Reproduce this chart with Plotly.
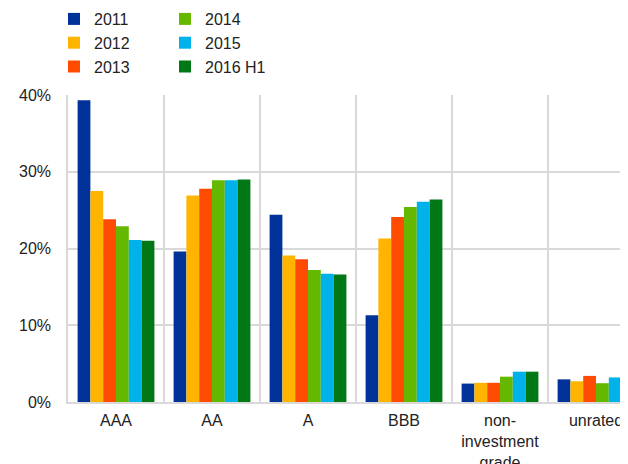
import plotly.graph_objects as go

# rating buckets and share of holdings per period (%)
ratings = ["AAA", "AA", "A", "BBB", "non-<br>investment<br>grade", "unrated"]
periods = ["2011", "2012", "2013", "2014", "2015", "2016 H1"]
colors = ["#003299", "#FFB400", "#FF4B00", "#65B800", "#00B1EA", "#007816"]

share_2011 = [39.3, 19.6, 24.4, 11.3, 2.4, 2.95]
share_2012 = [27.5, 26.9, 19.1, 21.3, 2.5, 2.7]
share_2013 = [23.8, 27.8, 18.6, 24.1, 2.5, 3.4]
share_2014 = [22.9, 28.9, 17.2, 25.4, 3.3, 2.45]
share_2015 = [21.1, 28.9, 16.7, 26.1, 3.95, 3.2]
share_2016 = [21.0, 29.0, 16.6, 26.4, 3.95, 3.35]
series = [share_2011, share_2012, share_2013, share_2014, share_2015, share_2016]

fig = go.Figure()
for i, (name, vals, col) in enumerate(zip(periods, series, colors)):
    fig.add_trace(go.Bar(x=ratings, y=vals, name=name,
                         marker=dict(color=col, line_width=0),
                         legend="legend" if i < 3 else "legend2"))

# the page body adds 8px, so the figure is 8px smaller and laid out up-left
leg = dict(orientation="v", yref="paper", xref="container",
           xanchor="left", yanchor="top", bgcolor="rgba(0,0,0,0)",
           tracegroupgap=0, font=dict(size=16, color="#222"), itemclick=False)
leg_top = 1 + (87 + 6) / 307

fig.update_layout(
    width=620, height=456,
    margin=dict(l=60, r=0, t=87, b=62, autoexpand=False),
    plot_bgcolor="white", paper_bgcolor="white",
    font=dict(family="Liberation Sans, Arial, sans-serif", size=16, color="#222"),
    barmode="group", bargap=0.2, bargroupgap=0,
    legend=dict(leg, x=46 / 620, y=leg_top),
    legend2=dict(leg, x=157 / 620, y=leg_top),
    xaxis=dict(range=[-0.5, -0.5 + 560 / 96], tickson="boundaries",
               showgrid=True, gridcolor="#d9d9d9", gridwidth=1.5,
               showline=True, linecolor="#d9d9d9", linewidth=1.5,
               ticks="", tickfont=dict(size=16), ticklabelstandoff=3,
               ticklabeloverflow="allow"),
    yaxis=dict(range=[0, 40], dtick=10, ticksuffix="%",
               showgrid=True, gridcolor="#d9d9d9", gridwidth=1.5,
               showline=True, linecolor="#d9d9d9", linewidth=1.5,
               zeroline=False, ticks="", ticklabelstandoff=12),
)

fig.write_html("out.html")
